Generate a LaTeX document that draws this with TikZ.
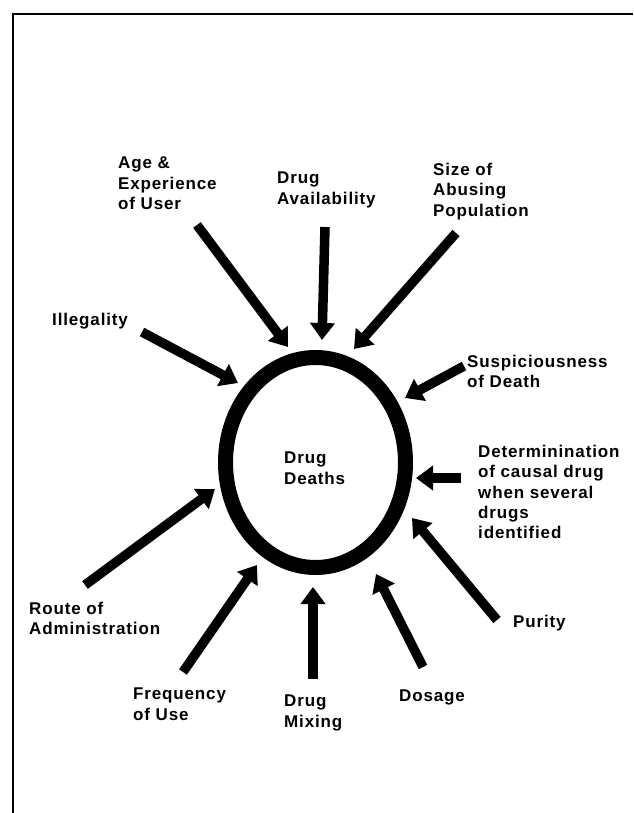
\documentclass[tikz,border=0pt]{standalone}
\usepackage{fontspec}
\setmainfont{Liberation Sans}[LetterSpace=5]
\usetikzlibrary{arrows.meta,shapes.geometric}

\begin{document}
\begin{tikzpicture}[x=1pt,y=-1pt]
\tikzstyle{factor}=[anchor=north west, inner sep=0pt, align=left, font=\fontsize{17}{20.3}\selectfont\bfseries]
\tikzstyle{connect}=[-{Triangle[width=24pt,length=17pt]}, line width=9.5pt]
\tikzstyle{ring}=[ellipse, draw=black, line width=15pt, minimum width=180pt, minimum height=210pt, inner sep=0pt]
\useasboundingbox (0,0) rectangle (633,813);
\draw[line width=2.4pt] (633,14) -- (13,14) -- (13,813);
  % centre
  \node[ring] (deaths) at (315.5,462.5) {};
  \node[factor] (deathstxt) at (284,452) {Drug\\Deaths};
  % factors
  \node[factor] (age) at (118,157) {Age \&\\Experience\\of User};
  \node[factor] (avail) at (277,172) {Drug\\Availability};
  \node[factor] (size) at (433,163) {Size of\\Abusing\\Population};
  \node[factor] (illeg) at (52,313) {Illegality};
  \node[factor] (susp) at (467,355) {Suspiciousness\\of Death};
  \node[factor] (determ) at (478,445) {Determinination\\of causal drug\\when several\\drugs\\identified};
  \node[factor] (purity) at (513,615) {Purity};
  \node[factor] (dosage) at (399,690) {Dosage};
  \node[factor] (mixing) at (284,695) {Drug\\Mixing};
  \node[factor] (freq) at (133,688) {Frequency\\of Use};
  \node[factor] (route) at (29,602) {Route of\\Administration};
  % arrow ends
  \coordinate (age-t) at (197,225);    \coordinate (age-h) at (288,347);
  \coordinate (avail-t) at (325,227);  \coordinate (avail-h) at (322,340);
  \coordinate (size-t) at (456,233);   \coordinate (size-h) at (354,349);
  \coordinate (illeg-t) at (142,332);  \coordinate (illeg-h) at (238,383);
  \coordinate (susp-t) at (464,366);   \coordinate (susp-h) at (405,398);
  \coordinate (determ-t) at (461,478); \coordinate (determ-h) at (416,478);
  \coordinate (purity-t) at (497,620); \coordinate (purity-h) at (412,518);
  \coordinate (dosage-t) at (423,667); \coordinate (dosage-h) at (376,574);
  \coordinate (mixing-t) at (313,679); \coordinate (mixing-h) at (313,587);
  \coordinate (freq-t) at (183,672);   \coordinate (freq-h) at (257,565);
  \coordinate (route-t) at (85,585);   \coordinate (route-h) at (215,489);
  \foreach \f in {age,avail,size,illeg,susp,determ,purity,dosage,mixing,freq,route}
    \draw[connect] (\f-t) -- (\f-h);
\end{tikzpicture}
\end{document}
